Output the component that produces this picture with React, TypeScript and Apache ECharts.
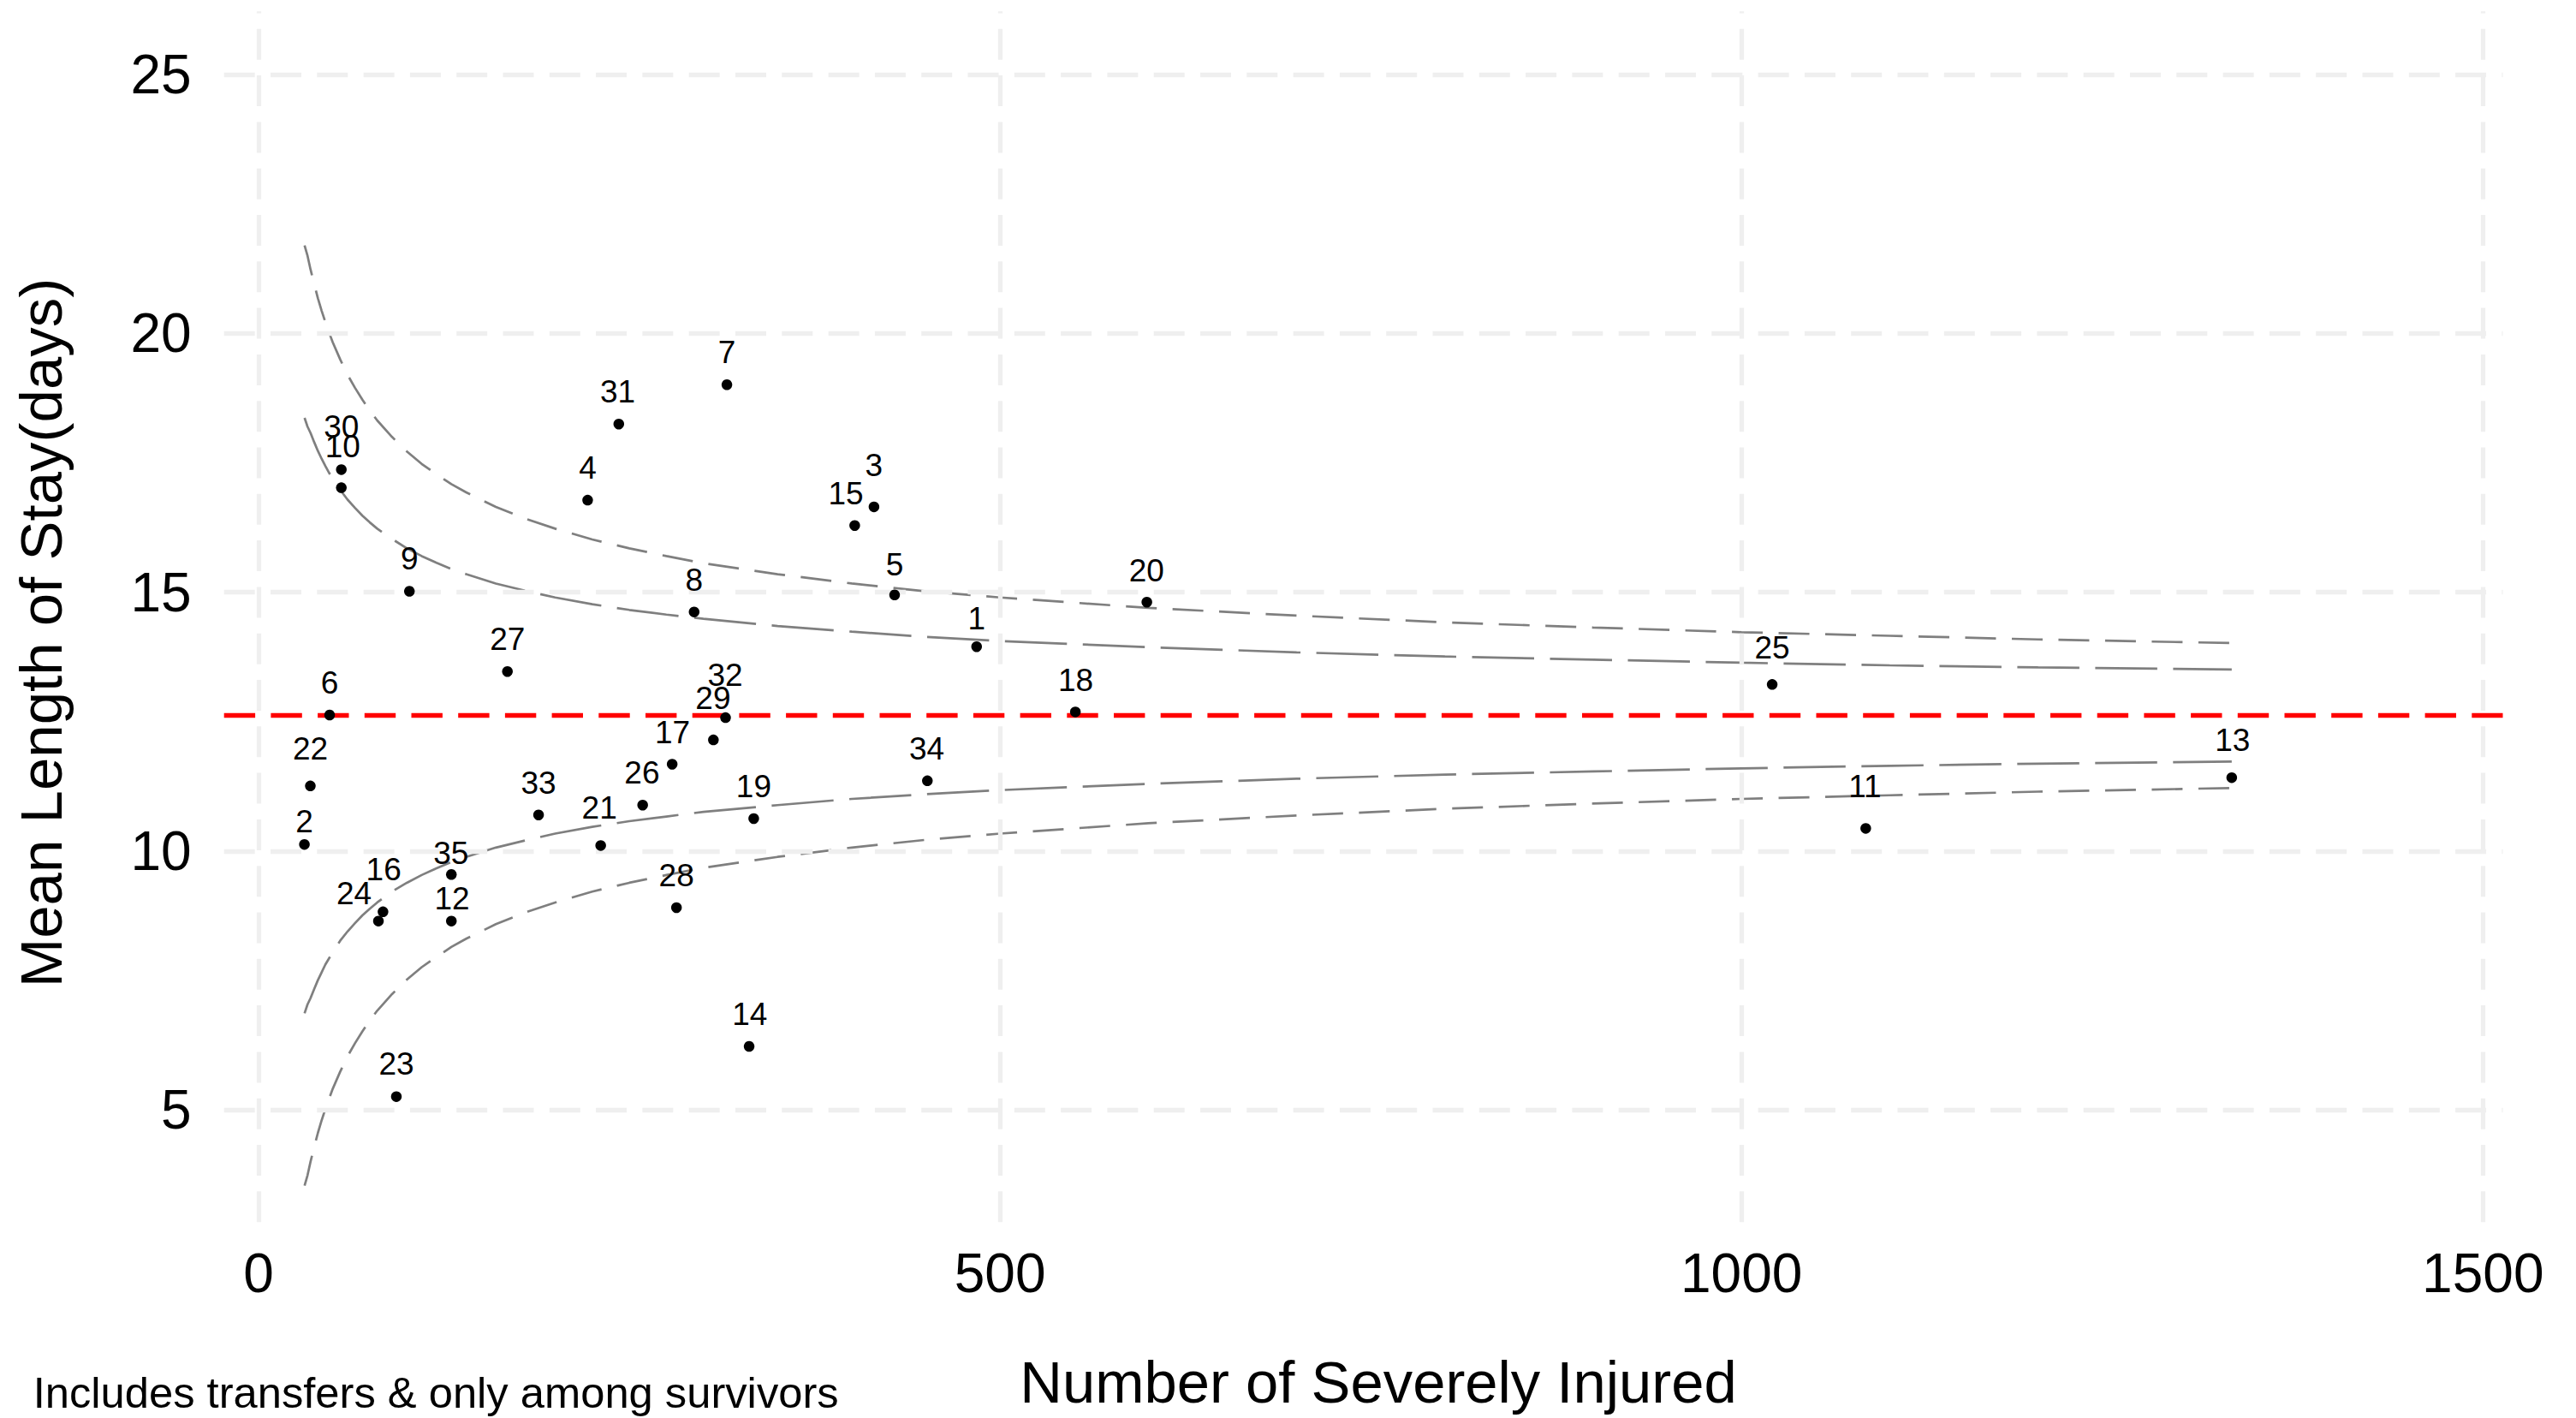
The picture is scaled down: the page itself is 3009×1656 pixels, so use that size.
import React, { useEffect, useRef } from "react";
import * as echarts from "echarts";

// ---------- data ----------
const hospitalIds = [
  "1", "2", "3", "4", "5", "6", "7", "8", "9", "10",
  "11", "12", "13", "14", "15", "16", "17", "18", "19", "20",
  "21", "22", "23", "24", "25", "26", "27", "28", "29", "30",
  "31", "32", "33", "34", "35",
];
const severelyInjured = [
  484.2, 30.9, 415.0, 221.9, 428.9, 47.9, 315.8, 293.7, 101.7, 55.8,
  1083.8, 130.0, 1330.6, 330.8, 402.0, 83.9, 278.9, 550.8, 333.9, 599.0,
  230.7, 34.9, 92.9, 80.8, 1020.7, 259.0, 167.8, 281.8, 306.7, 55.8,
  242.9, 314.9, 188.8, 451.0, 130.0,
];
const meanLengthOfStay = [
  13.95, 10.13, 16.65, 16.78, 14.95, 12.63, 19.01, 14.62, 15.02, 17.02,
  10.44, 8.65, 11.42, 6.23, 16.29, 8.83, 11.68, 12.69, 10.63, 14.81,
  10.11, 11.26, 5.26, 8.65, 13.22, 10.89, 13.47, 8.91, 12.15, 17.37,
  18.25, 12.58, 10.70, 11.36, 9.55,
];
const overallMean = 12.63;

// funnel limits
const funnelN = [
  31, 33, 35, 37.5, 40, 42.5, 45, 47.5, 50, 55, 60, 65, 70, 75, 80, 90, 100,
  110, 120, 130, 140, 160, 180, 200, 225, 250, 275, 300, 350, 400, 450, 500,
  600, 700, 800, 900, 1000, 1100, 1200, 1330.6,
];
const upper95 = [
  18.37, 18.2, 18.08, 17.9, 17.73, 17.58, 17.44, 17.31, 17.19, 16.98, 16.79,
  16.63, 16.48, 16.35, 16.23, 16.03, 15.85, 15.7, 15.57, 15.45, 15.35, 15.17,
  15.03, 14.9, 14.77, 14.66, 14.57, 14.49, 14.35, 14.24, 14.14, 14.06, 13.94,
  13.84, 13.76, 13.7, 13.64, 13.59, 13.55, 13.51,
];
const lower95 = [
  6.87, 7.04, 7.16, 7.34, 7.51, 7.66, 7.81, 7.93, 8.05, 8.27, 8.45, 8.61,
  8.76, 8.89, 9.01, 9.22, 9.39, 9.54, 9.67, 9.79, 9.89, 10.07, 10.21, 10.34,
  10.47, 10.58, 10.67, 10.76, 10.89, 11.01, 11.1, 11.18, 11.3, 11.4, 11.48,
  11.54, 11.6, 11.65, 11.69, 11.73,
];
const upper998 = [
  21.7, 21.5, 21.24, 20.95, 20.68, 20.44, 20.22, 20.02, 19.83, 19.5, 19.2,
  18.95, 18.72, 18.51, 18.32, 18.0, 17.72, 17.48, 17.28, 17.09, 16.93, 16.65,
  16.42, 16.23, 16.02, 15.85, 15.7, 15.56, 15.35, 15.17, 15.02, 14.9, 14.7,
  14.55, 14.42, 14.32, 14.23, 14.16, 14.09, 14.02,
];
const lower998 = [
  3.54, 3.74, 4.0, 4.29, 4.56, 4.8, 5.02, 5.22, 5.41, 5.74, 6.04, 6.29, 6.52,
  6.73, 6.92, 7.24, 7.52, 7.76, 7.96, 8.15, 8.31, 8.59, 8.82, 9.01, 9.22,
  9.39, 9.54, 9.68, 9.89, 10.07, 10.22, 10.34, 10.54, 10.69, 10.82, 10.92,
  11.01, 11.08, 11.15, 11.22,
];

const xTicks = [0, 500, 1000, 1500];
const yTicks = [5, 10, 15, 20, 25];

// label nudges (px) relative to each point, as placed in the reference
const labelNudges: [number, number][] = [
  [0, -33], [0, -26.6], [0, -48.8], [0, -37.5], [0, -35.6],
  [0, -37.3], [0, -38.1], [0, -37.3], [0, -37.9], [1.5, -48.2],
  [-1, -49], [0.8, -26.2], [1, -43.7], [0.8, -37.1], [-10.3, -37.1],
  [0.8, -49], [0.4, -37.3], [0.4, -37.1], [0, -37.3], [-0.4, -36.8],
  [-1.5, -44], [0, -43.2], [0, -37.7], [-28.5, -32.5], [0, -43.2],
  [-0.8, -37.7], [0, -37.7], [0, -37.7], [-0.4, -48.8], [0, -49.8],
  [-1.3, -37.3], [-0.4, -49.6], [0, -37.3], [-0.8, -37.7], [-0.4, -24.5],
];

const xTitle = "Number of Severely Injured";
const yTitle = "Mean Length of Stay(days)";
const caption = "Includes transfers & only among survivors";

const FONT = "'Liberation Sans', Arial, Helvetica, sans-serif";
const W = 3009;
const H = 1656;

export default function App() {
  const ref = useRef<HTMLDivElement>(null);

  useEffect(() => {
    if (!ref.current) return;
    const chart = echarts.init(ref.current, undefined, { renderer: "svg" });

    const curve = (ys: number[], dash: number[]) => ({
      type: "line",
      data: funnelN.map((n, i) => [n, ys[i]]),
      showSymbol: false,
      symbol: "none",
      smooth: false,
      silent: true,
      z: 3,
      lineStyle: { color: "#7F7F7F", width: 2.7, type: dash },
    });

    const option: any = {
      animation: false,
      backgroundColor: "#ffffff",
      grid: { left: 261.7, right: 85.5, top: 13.3, bottom: 228.7 },
      xAxis: {
        type: "value",
        min: -23.3,
        max: 1513.4,
        axisLine: { show: false },
        axisTick: { show: false },
        splitLine: { show: false },
        axisLabel: {
          customValues: xTicks,
          formatter: (v: number) => String(v),
          fontSize: 64,
          lineHeight: 64,
          color: "#000",
          fontFamily: FONT,
          margin: 28,
        },
      },
      yAxis: {
        type: "value",
        min: 2.835,
        max: 26.22,
        axisLine: { show: false },
        axisTick: { show: false },
        splitLine: { show: false },
        axisLabel: {
          customValues: yTicks,
          formatter: (v: number) => String(v),
          fontSize: 64,
          lineHeight: 64,
          color: "#000",
          fontFamily: FONT,
          margin: 38,
        },
      },
      series: [
        {
          type: "scatter",
          data: [],
          silent: true,
          z: 0,
          markLine: {
            silent: true,
            symbol: ["none", "none"],
            label: { show: false },
            animation: false,
            lineStyle: { color: "#EFEFEF", width: 5.3, type: [36, 18.3] },
            data: [
              ...xTicks.map((v) => ({ xAxis: v })),
              ...yTicks.map((v) => ({ yAxis: v })),
            ],
          },
        },
        curve(upper998, [36, 18.5]),
        curve(lower998, [36, 18.5]),
        curve(upper95, [72.5, 18.5]),
        curve(lower95, [72.5, 18.5]),
        {
          type: "scatter",
          data: [],
          silent: true,
          z: 4,
          markLine: {
            silent: true,
            symbol: ["none", "none"],
            label: { show: false },
            animation: false,
            lineStyle: { color: "#FF0000", width: 5.3, type: [36.4, 18.3] },
            data: [{ yAxis: overallMean }],
          },
        },
        {
          type: "scatter",
          z: 5,
          symbol: "circle",
          symbolSize: 12.5,
          itemStyle: { color: "#000", opacity: 1 },
          label: {
            show: true,
            position: "inside",
            formatter: "{b}",
            fontSize: 37,
            lineHeight: 37,
            color: "#000",
            fontFamily: FONT,
            textBorderWidth: 0,
          },
          data: hospitalIds.map((id, i) => ({
            name: id,
            value: [severelyInjured[i], meanLengthOfStay[i]],
            label: { offset: labelNudges[i] },
          })),
        },
      ],
      graphic: [
        {
          type: "text",
          x: 48,
          y: 739,
          rotation: Math.PI / 2,
          style: {
            text: yTitle,
            fontSize: 69,
            fontFamily: FONT,
            fill: "#000",
            align: "center",
            verticalAlign: "middle",
          },
        },
        {
          type: "text",
          x: 1610,
          y: 1614,
          style: {
            text: xTitle,
            fontSize: 68.8,
            fontFamily: FONT,
            fill: "#000",
            align: "center",
            verticalAlign: "middle",
          },
        },
        {
          type: "text",
          x: 38.7,
          y: 1626,
          style: {
            text: caption,
            fontSize: 50.7,
            fontFamily: FONT,
            fill: "#000",
            align: "left",
            verticalAlign: "middle",
          },
        },
      ],
    };

    chart.setOption(option);
    return () => chart.dispose();
  }, []);

  return (
    <div
      ref={ref}
      style={{
        position: "fixed",
        left: 0,
        top: 0,
        width: W,
        height: H,
        background: "#fff",
      }}
    />
  );
}
